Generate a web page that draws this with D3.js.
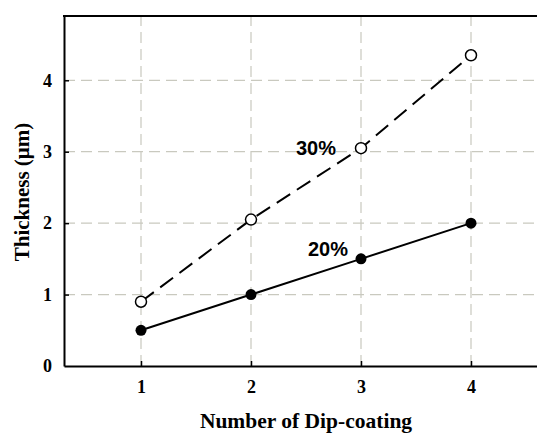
<html>
<head>
  <script src="https://cdn.jsdelivr.net/npm/d3@7"></script>
  <style>
    body { margin:0; background:#fff; }
    svg { display:block; }
  </style>
</head>
<body>
<div id="chart"></div>
<script>
  // data
  var dips = [1, 2, 3, 4]
  var thick20 = [0.5, 1.0, 1.5, 2.0]
  var thick30 = [0.9, 2.05, 3.05, 4.35]
  var xTicks = [1, 2, 3, 4]
  var yTicks = [0, 1, 2, 3, 4]

  var W = 537, H = 433
  var svg = d3.select("#chart").append("svg").attr("width", W).attr("height", H)

  // plot runs past the right edge of the picture, as in the original
  var x = d3.scaleLinear().domain([0.3, 4.7]).range([64, 548])
  var y = d3.scaleLinear().domain([0, 4.9]).range([366, 16])

  var grid = "#c9c9bf"
  svg.append("g").selectAll("line").data(xTicks).enter().append("line")
      .attr("x1", d => x(d)).attr("x2", d => x(d))
      .attr("y1", y(0)).attr("y2", y(4.9))
      .style("stroke", grid).style("stroke-width", 1.2).style("stroke-dasharray", "11,6")
  svg.append("g").selectAll("line").data(yTicks.slice(1)).enter().append("line")
      .attr("y1", d => y(d)).attr("y2", d => y(d))
      .attr("x1", x(0.3)).attr("x2", x(4.7))
      .style("stroke", grid).style("stroke-width", 1.2).style("stroke-dasharray", "11,6")

  // axes
  var xAxis = d3.axisBottom(x).tickValues(xTicks).tickFormat(d3.format("d"))
      .tickSizeInner(-5).tickSizeOuter(0).tickPadding(14)
  var yAxis = d3.axisLeft(y).tickValues(yTicks).tickFormat(d3.format("d"))
      .tickSizeInner(-5).tickSizeOuter(0).tickPadding(12)
  var gx = svg.append("g").attr("transform", "translate(0," + y(0) + ")").call(xAxis)
  var gy = svg.append("g").attr("transform", "translate(" + x(0.3) + ",0)").call(yAxis)
  ;[gx, gy].forEach(function(g) {
    g.select(".domain").style("stroke", "#000").style("stroke-width", 2)
    g.selectAll(".tick line").style("stroke", "#000").style("stroke-width", 1.5)
    g.selectAll("text").style("font-family", "'Liberation Serif', 'Times New Roman', serif")
      .style("font-weight", "bold").style("font-size", "18px").style("fill", "#000")
  })
  gy.selectAll(".tick line").filter(d => d === 0).remove()
  svg.append("line").attr("x1", x(0.3) - 1).attr("x2", x(4.7)).attr("y1", y(4.9)).attr("y2", y(4.9))
      .style("stroke", "#000").style("stroke-width", 2)

  // series
  var line = d3.line().x(d => x(d[0])).y(d => y(d[1]))
  var p20 = dips.map((d, i) => [d, thick20[i]])
  var p30 = dips.map((d, i) => [d, thick30[i]])

  svg.append("path").datum(p30).attr("d", line)
      .style("fill", "none").style("stroke", "#000").style("stroke-width", 2)
      .style("stroke-dasharray", "16,8")
  svg.append("path").datum(p20).attr("d", line)
      .style("fill", "none").style("stroke", "#000").style("stroke-width", 2)

  svg.append("g").selectAll("circle").data(p30).enter().append("circle")
      .attr("cx", d => x(d[0])).attr("cy", d => y(d[1])).attr("r", 5.5)
      .style("fill", "#fff").style("stroke", "#000").style("stroke-width", 1.5)
  svg.append("g").selectAll("circle").data(p20).enter().append("circle")
      .attr("cx", d => x(d[0])).attr("cy", d => y(d[1])).attr("r", 5.5)
      .style("fill", "#000")

  // series labels
  svg.append("text").attr("x", 296).attr("y", 155).text("30%")
      .style("font-family", "'Liberation Sans', Arial, sans-serif").style("font-weight", "bold").style("font-size", "20px")
  svg.append("text").attr("x", 308).attr("y", 256).text("20%")
      .style("font-family", "'Liberation Sans', Arial, sans-serif").style("font-weight", "bold").style("font-size", "20px")

  // axis titles
  svg.append("text").attr("x", 306).attr("y", 428).attr("text-anchor", "middle")
      .text("Number of Dip-coating")
      .style("font-family", "'Liberation Serif', 'Times New Roman', serif").style("font-weight", "bold").style("font-size", "21.5px")
  svg.append("text").attr("transform", "translate(29,192) rotate(-90)").attr("text-anchor", "middle")
      .text("Thickness (μm)")
      .style("font-family", "'Liberation Serif', 'Times New Roman', serif").style("font-weight", "bold").style("font-size", "21px")
</script>
</body>
</html>
